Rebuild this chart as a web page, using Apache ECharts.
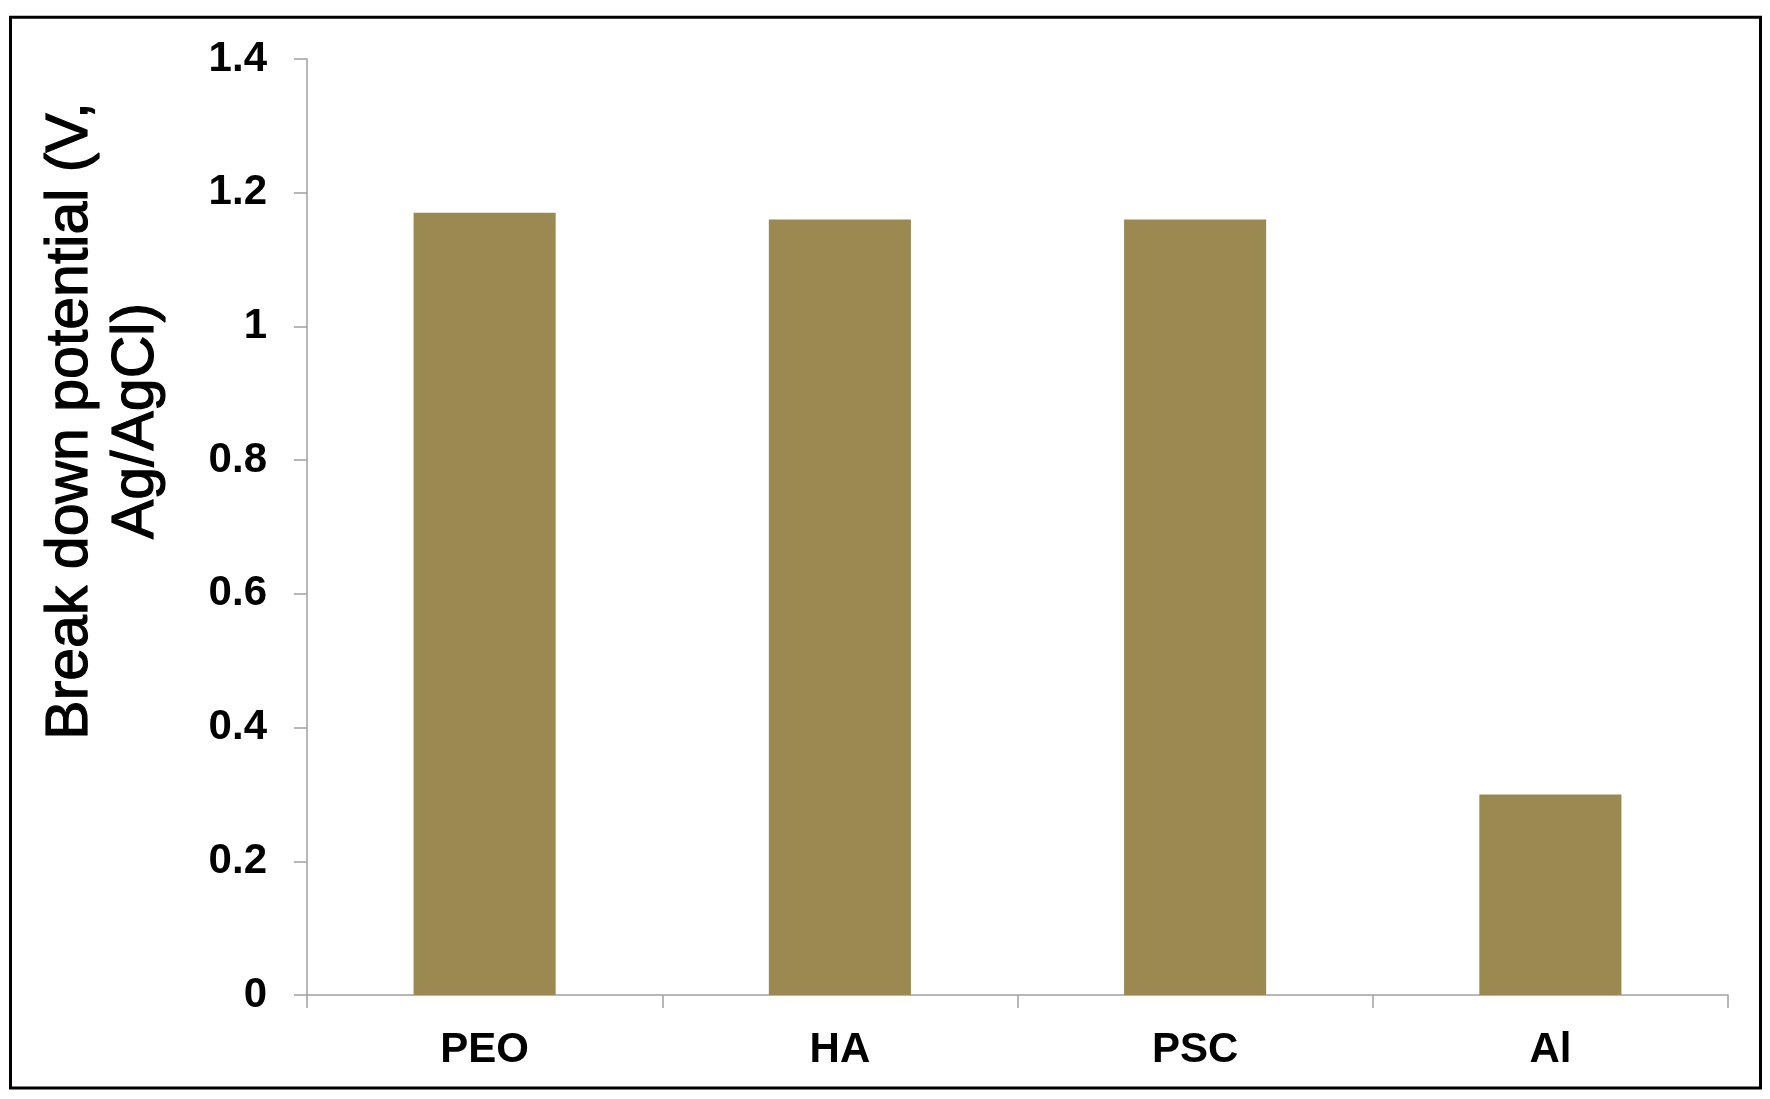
<!DOCTYPE html>
<html>
<head>
<meta charset="utf-8">
<title>Break down potential</title>
<script src="https://cdn.jsdelivr.net/npm/echarts@6/dist/echarts.min.js"></script>
<style>
  html, body { margin: 0; padding: 0; background: #fff; }
  #chart { width: 1770px; height: 1099px; }
</style>
</head>
<body>
<div id="chart"></div>
<script>
// data
const categories = ['PEO', 'HA', 'PSC', 'Al'];
const potentials = [1.17, 1.16, 1.16, 0.30];
const yName = 'Break down potential (V,\nAg/AgCl)';

const barColor = '#9a8a52';
const axisColor = '#a0a0a0';
const font = 'Liberation Sans, Arial, sans-serif';

const chart = echarts.init(document.getElementById('chart'));

chart.setOption({
  animation: false,
  backgroundColor: '#fff',
  grid: { left: 307, right: 42, top: 59, bottom: 104 },
  xAxis: {
    type: 'category',
    data: categories,
    boundaryGap: true,
    axisLine: { lineStyle: { color: axisColor, width: 1.5 } },
    axisTick: { show: true, length: 13, lineStyle: { color: axisColor, width: 1.5 } },
    axisLabel: {
      margin: 34,
      color: '#000',
      fontFamily: font,
      fontWeight: 'bold',
      fontSize: 42
    }
  },
  yAxis: {
    type: 'value',
    min: 0,
    max: 1.4,
    interval: 0.2,
    splitLine: { show: false },
    axisLine: { show: true, lineStyle: { color: axisColor, width: 1.5 } },
    axisTick: { show: true, length: 13, lineStyle: { color: axisColor, width: 1.5 } },
    axisLabel: {
      margin: 40,
      color: '#000',
      fontFamily: font,
      fontWeight: 'bold',
      fontSize: 42
    }
  },
  series: [
    {
      type: 'bar',
      data: potentials,
      barWidth: '40%',
      itemStyle: { color: barColor }
    }
  ],
  graphic: [
    {
      // frame round the whole figure
      type: 'rect',
      shape: { x: 10.5, y: 17.3, width: 1750, height: 1070.7 },
      style: { fill: null, stroke: '#000', lineWidth: 3 },
      silent: true
    },
    {
      // y axis title, rotated
      type: 'text',
      x: 104,
      y: 421,
      rotation: Math.PI / 2,
      style: {
        text: yName,
        font: '59px ' + font,
        fill: '#000',
        stroke: '#000',
        lineWidth: 1.2,
        align: 'center',
        verticalAlign: 'middle',
        lineHeight: 66
      }
    }
  ]
});
</script>
</body>
</html>
